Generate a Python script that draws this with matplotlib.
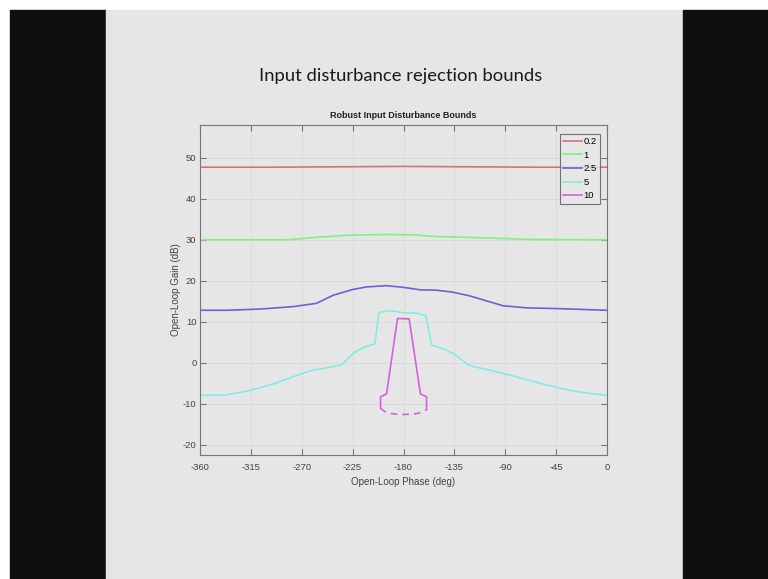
import numpy as np
import matplotlib
matplotlib.use('Agg')
import matplotlib.pyplot as plt
from matplotlib.patches import Rectangle

# Datos (fase en grados, ganancia en dB)
fase_02 = [-360, -300, -240, -180, -120, -60, 0]
gan_02 = [47.7, 47.7, 47.8, 47.9, 47.8, 47.7, 47.7]

fase_1 = [-360, -283, -254, -230, -195, -171, -151, -136, -101, -71, 0]
gan_1 = [30.0, 30.0, 30.65, 31.1, 31.3, 31.2, 30.8, 30.7, 30.4, 30.1, 30.0]

fase_25 = [-360, -336, -307, -277.5, -257, -242, -224.5, -212.7, -195, -180,
           -165.5, -150.8, -136, -121.3, -106.6, -91.9, -71.3, -41.8, 0]
gan_25 = [12.8, 12.8, 13.1, 13.7, 14.5, 16.5, 17.9, 18.5, 18.8, 18.4,
          17.8, 17.7, 17.2, 16.3, 15.1, 13.9, 13.4, 13.2, 12.8]

fase_5 = [-360, -339, -321.7, -307, -292, -277.5, -262.8, -248, -235.4, -230.4,
          -224.5, -215.6, -205.3, -202, -200.3, -190.6, -180, -168.5, -160.2,
          -155, -144.9, -136, -128.7, -124.3, -119.9, -100.7, -86, -71.3,
          -56.5, -41.8, -27, -12.3, 0]
gan_5 = [-7.9, -7.9, -7.1, -6.1, -4.9, -3.4, -2.0, -1.2, -0.6, 0.65,
         2.3, 3.7, 4.6, 11.9, 12.4, 12.7, 12.2, 12.1, 11.5,
         4.3, 3.4, 2.3, 0.8, -0.3, -0.8, -2.0, -3.0, -4.1,
         -5.2, -6.2, -7.0, -7.6, -7.9]

# contorno 10 dB: parte continua y parte punteada (inferior)
fase_10 = [-200.3, -200.3, -195, -185.3, -175, -165, -159.6, -159.6]
gan_10 = [-11.1, -8.3, -7.6, 10.8, 10.7, -7.6, -8.3, -11.4]
fase_10_d = [-200.3, -195, -188, -178.8, -170, -165.5, -159.6]
gan_10_d = [-11.1, -12.2, -12.5, -12.6, -12.5, -12.2, -11.4]

etiquetas = ['0.2', '1', '2.5', '5', '10']
colores = ['#d8707a', '#80f080', '#6a62d6', '#80eee0', '#dc5ede']

plt.rcParams['axes.unicode_minus'] = False
plt.rcParams['font.family'] = ['Liberation Sans', 'DejaVu Sans']

fig = plt.figure(figsize=(7.68, 5.79), dpi=100)
fig.patch.set_facecolor('white')
# fondo tipo diapositiva
for x0, w, c in [(10, 96, '#0f0f0f'), (106, 577, '#e6e6e6'), (683, 85, '#0f0f0f')]:
    fig.add_artist(Rectangle((x0/768, 0), w/768, 1 - 10/579, transform=fig.transFigure,
                             color=c, zorder=-10))

fig.text(401/768, 1 - 76/579, 'Input disturbance rejection bounds', ha='center', va='center',
         fontsize=13.3, family='Lato', color='#1a1a1a')

ax = fig.add_axes([200/768, 1 - 455/579, 407/768, 330/579])
ax.set_facecolor('#e6e6e6')

ax.plot(fase_02, gan_02, color=colores[0], lw=1.2, label=etiquetas[0])
ax.plot(fase_1, gan_1, color=colores[1], lw=1.2, label=etiquetas[1])
ax.plot(fase_25, gan_25, color=colores[2], lw=1.2, label=etiquetas[2])
ax.plot(fase_5, gan_5, color=colores[3], lw=1.2, label=etiquetas[3])
ax.plot(fase_10, gan_10, color=colores[4], lw=1.2, label=etiquetas[4])
ax.plot(fase_10_d, gan_10_d, color=colores[4], lw=1.2, ls=(0, (4, 3)))

ax.set_xlim(-360, 0)
ax.set_ylim(-22.5, 58)
ax.set_xticks(np.arange(-360, 1, 45))
ax.set_yticks(np.arange(-20, 51, 10))
ax.grid(True, color='#d8d8d8', lw=0.6)
ax.tick_params(direction='in', top=True, right=True, length=4, labelsize=6.8,
               colors='#777777', labelcolor='#444444')
ax.tick_params(axis='y', pad=2.5)
ax.tick_params(axis='x', pad=5.5)
for s in ax.spines.values():
    s.set_color('#777777')
    s.set_linewidth(0.8)

ax.set_xlabel('Open-Loop Phase (deg)', fontsize=7, color='#444444', labelpad=4)
ax.set_ylabel('Open-Loop Gain (dB)', fontsize=7, color='#444444', labelpad=1.5)
ax.set_title('Robust Input Disturbance Bounds', fontsize=6.5, fontweight='bold',
             color='#222222', pad=5)

leg = ax.legend(loc='upper right', fontsize=6.8, frameon=True, fancybox=False,
                handlelength=2.0, borderpad=0.35, labelspacing=0.48, handletextpad=0.15,
                borderaxespad=0, bbox_to_anchor=(0.983, 0.973))
leg.get_frame().set_edgecolor('#555555')
leg.get_frame().set_facecolor('#e8e8e8')
leg.get_frame().set_linewidth(0.8)

fig.savefig('out.png', dpi=100)
